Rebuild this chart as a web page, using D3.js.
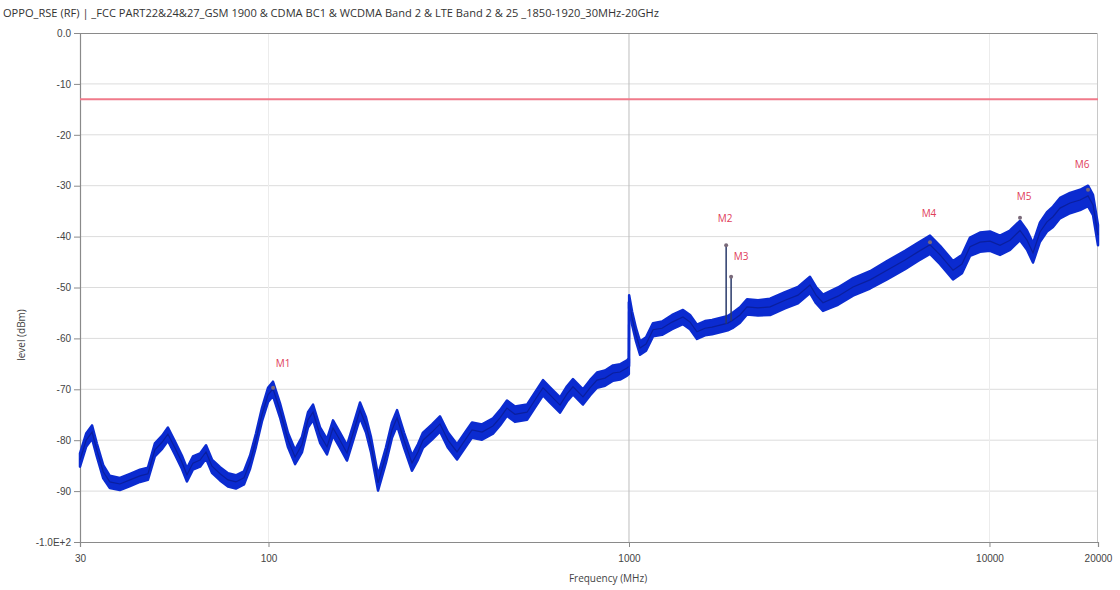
<!DOCTYPE html>
<html><head><meta charset="utf-8">
<script src="https://cdn.jsdelivr.net/npm/d3@7"></script>
<style>body{margin:0;background:#fff;} svg{display:block;font-family:"Open Sans",sans-serif;}</style>
</head><body><svg id="c" width="1120" height="590"></svg>
<script>
const title = "OPPO_RSE (RF) | _FCC PART22&24&27_GSM 1900 & CDMA BC1 & WCDMA Band 2 & LTE Band 2 & 25 _1850-1920_30MHz-20GHz";
const xTicks = [30, 100, 1000, 10000, 20000];
const xTickLabels = ["30", "100", "1000", "10000", "20000"];
const yTicks = [0, -10, -20, -30, -40, -50, -60, -70, -80, -90, -100];
const yTickLabels = ["0.0", "-10", "-20", "-30", "-40", "-50", "-60", "-70", "-80", "-90", "-1.0E+2"];
const limitLevel = -13;

// Trace (MHz, dBm)
const freqs = [30,31.2,32.4,33.4,34.8,36.3,38.7,41.3,44.0,46.3,48.4,50.7,52.6,55.0,57.5,59.4,61.7,64.6,67.1,69.7,73.4,77.2,81.2,85.5,88.9,92.3,95.9,99.7,102.9,107.6,113.3,118.5,123.8,128.7,132.9,139.0,145.3,151.0,157.9,165.1,172.7,179.4,186.4,192.5,201.3,211.8,220.1,227.3,237.7,250.1,259.8,268.3,284.2,299.0,314.8,333.4,350.9,366.9,391.1,419.5,438.7,458.7,482.7,521.3,548.6,577.4,603.8,643.8,673.0,699.3,745.4,779.6,815.2,858.0,903.0,944.3,987.4,999,
 1001,1020,1046,1073,1115,1166,1235,1317,1412,1477,1544,1625,1700,1789,1835,1880,1935,2032,2125,2280,2462,2709,2943,3178,3303,3453,3800,4183,4663,5197,5831,6334,6839,7293,7922,8389,8831,9412,10034,10696,11402,12153,12709,13205,13808,14438,15004,15692,16727,17834,18766,19376,20000];
const levels = [-83.9,-80.0,-78.4,-81.9,-86.2,-88.2,-88.6,-87.8,-87.0,-86.6,-81.9,-80.4,-78.8,-81.5,-84.3,-86.8,-84.5,-83.9,-82.3,-85.1,-86.6,-87.8,-88.2,-87.4,-84.3,-80.0,-75.0,-71.1,-69.9,-74.1,-80.0,-83.3,-80.9,-76.0,-74.5,-79.0,-81.3,-77.6,-80.0,-82.5,-78.0,-74.1,-77.0,-80.9,-88.4,-82.9,-78.0,-75.6,-80.0,-84.5,-82.3,-80.0,-78.4,-76.8,-80.0,-82.3,-80.0,-78.0,-78.4,-77.2,-75.6,-73.7,-74.9,-74.5,-72.1,-69.7,-71.1,-73.1,-70.9,-69.5,-71.5,-69.7,-68.2,-67.8,-66.8,-66.6,-65.8,-65.5,
 -52.8,-56.0,-59.3,-61.9,-61.1,-58.3,-58.0,-56.8,-55.8,-56.8,-58.7,-58.0,-57.8,-57.4,-57.2,-57.0,-56.5,-55.4,-53.8,-54.0,-53.8,-52.5,-51.5,-49.5,-51.5,-53.0,-51.7,-49.9,-48.5,-46.6,-44.6,-43.0,-41.6,-43.6,-46.6,-45.4,-42.0,-41.1,-40.9,-41.7,-40.7,-38.8,-40.7,-43.2,-39.1,-37.1,-36.1,-34.4,-33.4,-32.8,-32.0,-33.8,-39.7];
// band half-width (dB) of the noisy trace
const spread = [1.3,1.3,1.3,1.3,1.3,1.2,1.2,1.2,1.2,1.2,1.3,1.3,1.3,1.3,1.3,1.3,1.3,1.3,1.3,1.3,1.3,1.3,1.3,1.3,1.3,1.3,1.3,1.4,1.4,1.4,1.4,1.4,1.5,1.5,1.5,1.5,1.5,1.5,1.5,1.5,1.5,1.5,1.5,1.5,1.5,1.5,1.5,1.5,1.5,1.5,1.5,1.5,1.5,1.5,1.5,1.5,1.5,1.5,1.5,1.5,1.5,1.5,1.5,1.5,1.5,1.5,1.5,1.5,1.5,1.5,1.5,1.5,1.5,1.5,1.5,1.5,1.5,1.5,
 1.3,1.3,1.3,1.3,1.3,1.3,1.3,1.4,1.4,1.4,1.4,1.4,1.4,1.4,1.4,1.4,1.5,1.5,1.5,1.5,1.6,1.6,1.6,1.6,1.6,1.6,1.7,1.7,1.7,1.8,1.8,1.8,1.8,1.8,1.8,1.8,1.8,1.9,1.9,1.9,1.9,1.9,1.9,1.9,1.9,1.9,2.0,2.0,2.0,2.0,2.0,2.0,2.0];

// Markers
const markerNames = ["M1","M2","M3","M4","M5","M6"];
const markerFreqs = [103, 1860, 1920, 6839, 12153, 18766];
const markerLevels = [-69.7, -41.7, -47.9, -41.1, -36.3, -30.8];
const markerBase = [null, -57.1, -56.6, null, null, null];

const svg = d3.select("#c");
const L = 80, R = 1098, T = 33, B = 542;
const x = d3.scaleLog().domain([30, 20000]).range([L, R]);
const y = d3.scaleLinear().domain([-100, 0]).range([B, T]);

svg.append("text").attr("x", 3).attr("y", 17).attr("font-size", 10).attr("fill", "#333")
  .attr("textLength", 656).attr("lengthAdjust", "spacingAndGlyphs").text(title);

// horizontal grid
svg.append("g").selectAll("line").data(yTicks.filter(v => v > -100 && v < 0)).join("line")
  .attr("x1", L).attr("x2", R).attr("y1", d => y(d)).attr("y2", d => y(d))
  .attr("stroke", "#dcdcdc").attr("stroke-width", 1);
// vertical grid
svg.append("g").selectAll("line").data([100, 1000, 10000]).join("line")
  .attr("x1", d => x(d)).attr("x2", d => x(d)).attr("y1", T).attr("y2", B)
  .attr("stroke", d => d === 1000 ? "#bdbdbd" : "#ececec").attr("stroke-width", 1);

// frame
svg.append("line").attr("x1", L).attr("x2", R).attr("y1", T + 0.5).attr("y2", T + 0.5).attr("stroke", "#8a8a8a");
svg.append("line").attr("x1", R - 0.5).attr("x2", R - 0.5).attr("y1", T).attr("y2", B).attr("stroke", "#c8c8c8");

// axes
const yAxis = d3.axisLeft(y).tickValues(yTicks).tickFormat((d, i) => yTickLabels[i]).tickSize(6).tickPadding(3);
const gy = svg.append("g").attr("transform", `translate(${L},0)`).call(yAxis);
const xAxis = d3.axisBottom(x).tickValues(xTicks).tickFormat((d, i) => xTickLabels[i]).tickSize(5).tickPadding(8);
const gx = svg.append("g").attr("transform", `translate(0,${B})`).call(xAxis);
[gy, gx].forEach(g => {
  g.select(".domain").attr("stroke", "#8a8a8a").attr("stroke-width", 1.2);
  g.selectAll(".tick line").attr("stroke", "#8a8a8a");
  g.selectAll(".tick text").attr("fill", "#444").attr("font-size", 10);
});

// limit line
svg.append("line").attr("x1", L).attr("x2", R).attr("y1", y(limitLevel)).attr("y2", y(limitLevel))
  .attr("stroke", "#f07a8a").attr("stroke-width", 2);

// trace
const pts = freqs.map((f, i) => ({f, v: levels[i], s: spread[i]}));
const seg1 = pts.filter(p => p.f < 1000), seg2 = pts.filter(p => p.f > 1000);
const area = d3.area().x(d => x(d.f)).y0(d => y(d.v - d.s)).y1(d => y(d.v + d.s));
const line = d3.line().x(d => x(d.f)).y(d => y(d.v));
[seg1, seg2].forEach(s => {
  svg.append("path").datum(s).attr("d", area).attr("fill", "#0b2bd0").attr("stroke", "#0b2bd0").attr("stroke-width", 2.5).attr("stroke-linejoin", "round");
  svg.append("path").datum(s).attr("d", line).attr("fill", "none").attr("stroke", "#0a1f9e").attr("stroke-width", 1.2);
});
// jump at 1000 MHz
svg.append("line").attr("x1", x(999)).attr("x2", x(1001)).attr("y1", y(levels[freqs.indexOf(999)])).attr("y2", y(levels[freqs.indexOf(1001)]))
  .attr("stroke", "#0b2bd0").attr("stroke-width", 3);

// spikes
markerFreqs.forEach((f, i) => {
  if (markerBase[i] !== null) {
    svg.append("line").attr("x1", x(f)).attr("x2", x(f)).attr("y1", y(markerBase[i])).attr("y2", y(markerLevels[i]))
      .attr("stroke", "#2a3a6a").attr("stroke-width", 1.5);
  }
});
// markers
const labelOff = [[10, -21], [-1, -23], [10, -17], [-1, -25], [4, -18], [-6, -22]];
markerFreqs.forEach((f, i) => {
  svg.append("circle").attr("cx", x(f)).attr("cy", y(markerLevels[i])).attr("r", 2).attr("fill", "#7a6a7a");
  svg.append("text").attr("x", x(f) + labelOff[i][0]).attr("y", y(markerLevels[i]) + labelOff[i][1])
    .attr("text-anchor", "middle").attr("font-size", 10).attr("fill", "#e0405a").text(markerNames[i]);
});

// axis titles
svg.append("text").attr("transform", "translate(25,335) rotate(-90)").attr("text-anchor", "middle")
  .attr("font-size", 10).attr("fill", "#444").text("level (dBm)");
svg.append("text").attr("x", 608).attr("y", 582).attr("text-anchor", "middle")
  .attr("font-size", 10).attr("fill", "#444").text("Frequency (MHz)");
</script></body></html>
